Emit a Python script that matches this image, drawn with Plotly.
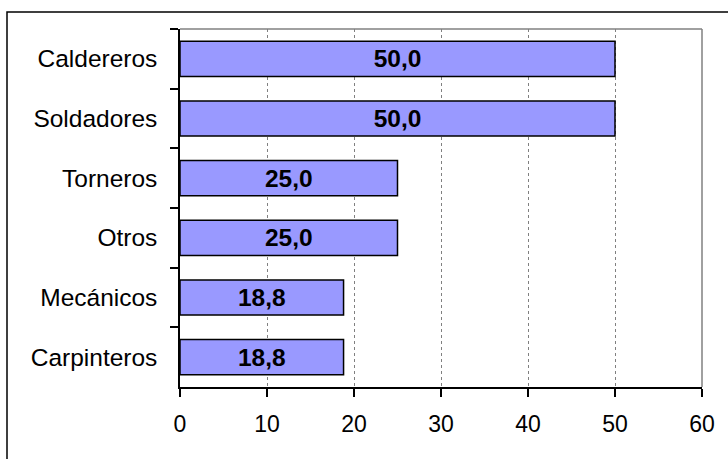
import plotly.graph_objects as go

categories = ["Caldereros", "Soldadores", "Torneros", "Otros", "Mecánicos", "Carpinteros"]
values = [50.0, 50.0, 25.0, 25.0, 18.8, 18.8]
x_ticks = [0, 10, 20, 30, 40, 50, 60]

labels = [f"{v:.1f}".replace(".", ",") for v in values]

W, H = 728, 459
L, R, T, B = 180, 702, 29, 387

fig = go.Figure(go.Bar(
    x=values, y=categories, orientation="h",
    marker=dict(color="#9999FF", line=dict(color="black", width=1.5)),
    width=0.59,
    text=labels, textposition="inside", insidetextanchor="middle",
    textfont=dict(family="Liberation Sans, Arial", size=24.5, color="black", weight="bold"),
    cliponaxis=False,
))

def px2paper_x(px):
    return (px - L) / (R - L)

def px2paper_y(py):
    return (B - py) / (B - T)

shapes = [
    # outer chart border
    dict(type="rect", xref="paper", yref="paper",
         x0=px2paper_x(7), x1=px2paper_x(760), y0=px2paper_y(490), y1=px2paper_y(12),
         line=dict(color="black", width=1.5), fillcolor="rgba(0,0,0,0)", layer="below"),
    # plot frame top and right (gray)
    dict(type="line", xref="paper", yref="paper", x0=0, x1=1, y0=1, y1=1,
         line=dict(color="#808080", width=1.5), layer="below"),
    dict(type="line", xref="paper", yref="paper", x0=1, x1=1, y0=0, y1=1,
         line=dict(color="#808080", width=1.5), layer="below"),
]

fig.update_layout(
    width=W, height=H,
    margin=dict(l=L, r=W - R, t=T, b=H - B, pad=0),
    paper_bgcolor="white", plot_bgcolor="white",
    showlegend=False,
    shapes=shapes,
    font=dict(family="Liberation Sans, Arial", color="black"),
    uniformtext=dict(mode=False),
)
fig.update_xaxes(
    range=[0, 60], tickvals=x_ticks, ticktext=[str(t) for t in x_ticks],
    showgrid=True, gridcolor="#808080", griddash="dot", gridwidth=1,
    showline=True, linecolor="black", linewidth=1.5,
    ticks="outside", ticklen=8, tickcolor="black", tickwidth=1.5,
    tickfont=dict(size=23, family="Liberation Sans, Arial", color="black"),
    ticklabelstandoff=8,
    zeroline=False, fixedrange=True,
)
fig.update_yaxes(
    categoryorder="array", categoryarray=categories, autorange="reversed",
    showline=True, linecolor="black", linewidth=1.5,
    ticks="outside", ticklen=8, tickcolor="black", tickwidth=1.5,
    tickson="boundaries",
    tickfont=dict(size=24.5, family="Liberation Sans, Arial", color="black"),
    ticklabelstandoff=16,
    showgrid=False, zeroline=False, fixedrange=True,
)

fig.write_html("out.html")
